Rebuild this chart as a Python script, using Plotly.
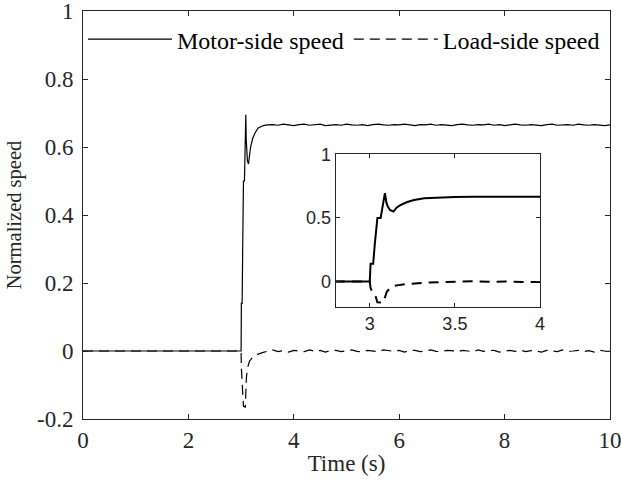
import numpy as np
import plotly.graph_objects as go

# ---- data ----
t_tr = [0.0, 3.0, 3.005, 3.02, 3.03, 3.045, 3.064, 3.075, 3.089, 3.098, 3.106, 3.12, 3.14,
        3.157, 3.18, 3.22, 3.26, 3.32, 3.42, 3.5]
motor_tr = [0.0, 0.0, 0.14, 0.14, 0.30, 0.50, 0.50, 0.60, 0.695, 0.62, 0.59, 0.56, 0.55,
            0.58, 0.60, 0.625, 0.64, 0.655, 0.663, 0.665]
t_ld = [0.0, 3.0, 3.005, 3.02, 3.035, 3.045, 3.08, 3.09, 3.10, 3.12, 3.14, 3.16, 3.21,
        3.31, 3.42, 3.5]
load_tr = [0.0, 0.0, -0.05, -0.10, -0.12, -0.163, -0.165, -0.12, -0.08, -0.05, -0.035,
           -0.03, -0.02, -0.01, -0.004, 0.0]

t_ss = np.round(np.arange(3.6, 10.0001, 0.1), 2).tolist()
motor_ss = [0.666, 0.664, 0.667, 0.665, 0.663, 0.666, 0.667, 0.664, 0.665, 0.667,
            0.663, 0.665, 0.666, 0.664, 0.667, 0.665, 0.664, 0.666, 0.663, 0.666,
            0.667, 0.665, 0.664, 0.666, 0.665, 0.667, 0.664, 0.663, 0.666, 0.665,
            0.667, 0.664, 0.666, 0.665, 0.663, 0.666, 0.667, 0.665, 0.664, 0.666,
            0.665, 0.667, 0.664, 0.666, 0.663, 0.665, 0.667, 0.665, 0.664, 0.666,
            0.665, 0.663, 0.666, 0.667, 0.664, 0.665, 0.666, 0.664, 0.667, 0.665,
            0.664, 0.666, 0.665, 0.663, 0.665]
load_ss = [0.003, -0.002, 0.001, -0.003, 0.002, 0.000, -0.002, 0.003, -0.001, 0.002,
           -0.003, 0.001, 0.002, -0.002, 0.000, 0.003, -0.001, -0.003, 0.002, 0.001,
           -0.002, 0.003, 0.000, -0.001, 0.002, -0.003, 0.001, 0.002, -0.002, 0.000,
           0.003, -0.001, -0.002, 0.002, 0.001, -0.003, 0.002, 0.000, -0.002, 0.003,
           -0.001, 0.001, 0.002, -0.003, 0.000, 0.002, -0.001, 0.003, -0.002, 0.001,
           0.000, -0.003, 0.002, 0.001, -0.002, 0.003, -0.001, 0.000, 0.002, -0.002,
           0.001, -0.003, 0.002, 0.000, -0.001]

t_motor = t_tr + t_ss
v_motor = motor_tr + motor_ss
t_load = t_ld + t_ss
v_load = load_tr + load_ss

main_xticks = [0, 2, 4, 6, 8, 10]
main_yticks = [-0.2, 0, 0.2, 0.4, 0.6, 0.8, 1]
main_ytext = ["-0.2", "0", "0.2", "0.4", "0.6", "0.8", "1"]
inset_xticks = [3, 3.5, 4]
inset_yticks = [0, 0.5, 1]

FRAME = "#262626"
SERIF = "Liberation Serif, Times New Roman, serif"
SANS = "Liberation Sans, Arial, sans-serif"

fig = go.Figure()
fig.add_trace(go.Scatter(x=t_motor, y=v_motor, mode="lines", name="Motor-side speed",
                         line=dict(color="black", width=1.2), xaxis="x", yaxis="y"))
fig.add_trace(go.Scatter(x=t_load, y=v_load, mode="lines", name="Load-side speed",
                         line=dict(color="black", width=1.2, dash="10px,6px"),
                         xaxis="x", yaxis="y"))
fig.add_trace(go.Scatter(x=t_motor, y=v_motor, mode="lines", showlegend=False,
                         line=dict(color="black", width=2), xaxis="x2", yaxis="y2"))
fig.add_trace(go.Scatter(x=t_load, y=v_load, mode="lines", showlegend=False,
                         line=dict(color="black", width=2, dash="10px,7px"),
                         xaxis="x2", yaxis="y2"))

axis_common = dict(showline=True, linecolor=FRAME, linewidth=1, mirror="ticks",
                   ticks="inside", tickcolor=FRAME, showgrid=False, zeroline=False,
                   automargin=False, ticklabeloverflow="allow")

fig.update_layout(
    width=621, height=484,
    margin=dict(l=83, r=11, t=11, b=65, autoexpand=False),
    paper_bgcolor="white", plot_bgcolor="white",
    font=dict(family=SERIF, size=22, color="#262626"),
    xaxis=dict(range=[0, 10], tickvals=main_xticks, ticklen=5,
               tickfont=dict(family=SERIF, size=23, color="#262626"),
               title=dict(text="Time (s)", font=dict(family=SERIF, size=23), standoff=3),
               domain=[0, 1], **axis_common),
    yaxis=dict(range=[-0.2, 1], tickvals=main_yticks, ticktext=main_ytext, ticklen=5,
               tickfont=dict(family=SERIF, size=23, color="#262626"), ticklabelstandoff=4,
               title=dict(text="Normalized speed", font=dict(family=SERIF, size=20.5),
                          standoff=9),
               domain=[0, 1], **axis_common),
    xaxis2=dict(range=[2.8, 4], tickvals=inset_xticks, ticklen=4, anchor="y2",
                domain=[0.4795, 0.8672], tickfont=dict(family=SANS, size=18),
                **axis_common),
    yaxis2=dict(range=[-0.2, 1], tickvals=inset_yticks, ticklen=4, anchor="x2",
                domain=[0.2745, 0.6488], tickfont=dict(family=SANS, size=18),
                **axis_common),
    legend=dict(orientation="h", x=0.0, y=0.93, xanchor="left", yanchor="middle",
                bgcolor="rgba(0,0,0,0)", itemwidth=84,
                font=dict(family=SERIF, size=24, color="black")),
    showlegend=True,
)

fig.write_html("out.html")
